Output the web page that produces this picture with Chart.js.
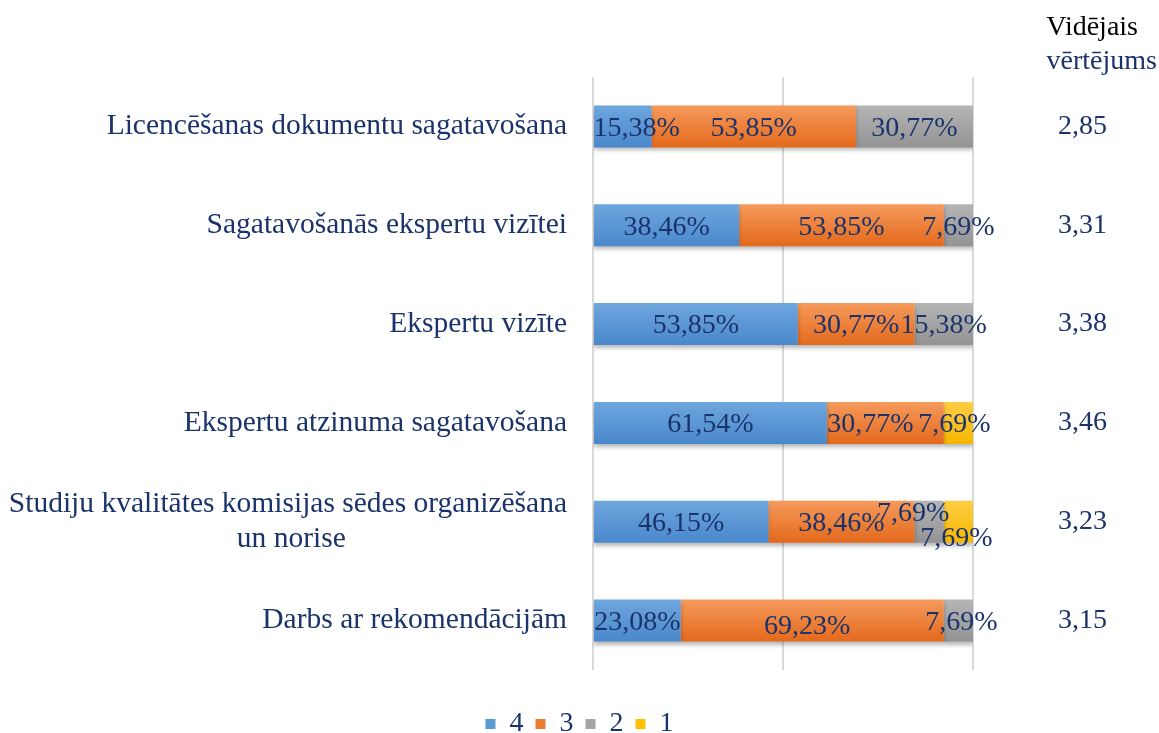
<!DOCTYPE html>
<html>
<head>
<meta charset="utf-8">
<script src="https://cdn.jsdelivr.net/npm/chart.js@4.4.1/dist/chart.umd.min.js"></script>
<style>
  html, body { margin: 0; padding: 0; background: #fff; }
  #wrap { width: 1159px; height: 733px; }
</style>
</head>
<body>
<div id="wrap"><canvas id="c" width="1159" height="733"></canvas></div>
<script>
// kategorijas un vērtības (procenti)
const categories = [
  'Licencēšanas dokumentu sagatavošana',
  'Sagatavošanās ekspertu vizītei',
  'Ekspertu vizīte',
  'Ekspertu atzinuma sagatavošana',
  ['Studiju kvalitātes komisijas sēdes organizēšana', 'un norise'],
  'Darbs ar rekomendācijām'
];
const score4 = [15.38, 38.46, 53.85, 61.54, 46.15, 23.08];
const score3 = [53.85, 53.85, 30.77, 30.77, 38.46, 69.23];
const score2 = [30.77, 7.69, 15.38, 0, 7.69, 7.69];
const score1 = [0, 0, 0, 7.69, 7.69, 0];
const averages = ['2,85', '3,31', '3,38', '3,46', '3,23', '3,15'];
const xTicks = [0, 50, 100];

const FONT = "'Liberation Serif', 'Times New Roman', serif";
const NAVY = '#1b336b';
const BAR_FRAC = 0.425;

// dažu etiķešu nobīdes (datasetIndex:index -> [dx, dy])
const labelNudge = {
  '0:0': [14, 0],
  '1:3': [-15, 0], '3:3': [-4, 0],
  '2:4': [-16, -10], '3:4': [-2, 15],
  '1:5': [-5, 4], '2:5': [3, 0]
};

const fmt = v => v.toFixed(2).replace('.', ',') + '%';

// vertikāls gradients katram stabiņam
function grad(top, bottom) {
  return function (ctx) {
    const chart = ctx.chart;
    const y = chart.scales.y;
    if (!chart.chartArea || !y || ctx.dataIndex === undefined) return top;
    const c = y.getPixelForValue(ctx.dataIndex);
    const h = (y.height / categories.length) * BAR_FRAC / 2;
    const g = chart.ctx.createLinearGradient(0, c - h, 0, c + h);
    g.addColorStop(0, top);
    g.addColorStop(1, bottom);
    return g;
  };
}

const barShadow = {
  id: 'barShadow',
  beforeDatasetDraw(chart) {
    const ctx = chart.ctx;
    ctx.save();
    ctx.shadowColor = 'rgba(0,0,0,0.28)';
    ctx.shadowBlur = 4;
    ctx.shadowOffsetY = 3;
  },
  afterDatasetDraw(chart) { chart.ctx.restore(); }
};

const valueLabels = {
  id: 'valueLabels',
  afterDatasetsDraw(chart) {
    const ctx = chart.ctx;
    ctx.save();
    ctx.font = '28px ' + FONT;
    ctx.fillStyle = NAVY;
    ctx.textAlign = 'center';
    ctx.textBaseline = 'middle';
    chart.data.datasets.forEach((ds, di) => {
      chart.getDatasetMeta(di).data.forEach((bar, i) => {
        const v = ds.data[i];
        if (!v) return;
        const n = labelNudge[di + ':' + i] || [0, 0];
        ctx.fillText(fmt(v), (bar.x + bar.base) / 2 + n[0], bar.y + 2 + n[1]);
      });
    });
    ctx.restore();
  }
};

const header = {
  id: 'header',
  afterDraw(chart) {
    const ctx = chart.ctx;
    ctx.save();
    ctx.font = '28px ' + FONT;
    ctx.textBaseline = 'middle';
    ctx.textAlign = 'right';
    ctx.fillStyle = '#000';
    ctx.fillText('Vidējais', 1138, 28);
    ctx.fillStyle = NAVY;
    ctx.fillText('vērtējums', 1157, 62);
    ctx.restore();
  }
};

const noPad = axis => { axis.paddingTop = 0; axis.paddingBottom = 0; };

new Chart(document.getElementById('c'), {
  type: 'bar',
  data: {
    labels: categories,
    datasets: [
      { label: '4', data: score4, backgroundColor: grad('#6ea6de', '#4a88cc') },
      { label: '3', data: score3, backgroundColor: grad('#f59a5c', '#e4691c') },
      { label: '2', data: score2, backgroundColor: grad('#b5b5b5', '#939393') },
      { label: '1', data: score1, backgroundColor: grad('#ffcd45', '#f5b700') }
    ]
  },
  options: {
    indexAxis: 'y',
    responsive: false,
    animation: false,
    barPercentage: 0.85,
    categoryPercentage: BAR_FRAC / 0.85,
    layout: { padding: { top: 77, left: 0, right: 0, bottom: -15 } },
    plugins: {
      legend: {
        position: 'bottom',
        labels: {
          color: NAVY,
          font: { family: FONT, size: 28 },
          boxWidth: 10,
          boxHeight: 10,
          padding: 12,
          generateLabels: chart => Chart.defaults.plugins.legend.labels.generateLabels(chart).map((l, i) => {
            l.fillStyle = ['#5b9bd5', '#ed7d31', '#a5a5a5', '#ffc000'][i];
            return l;
          })
        }
      },
      tooltip: { enabled: false }
    },
    scales: {
      x: {
        stacked: true,
        min: 0,
        max: 100,
        afterBuildTicks: axis => { axis.ticks = xTicks.map(v => ({ value: v })); },
        ticks: { display: false },
        grid: { color: '#d9d9d9', lineWidth: 2, drawTicks: false },
        border: { display: false },
        afterFit: axis => { axis.height = 28; }
      },
      y: {
        stacked: true,
        ticks: {
          color: NAVY,
          font: { family: FONT, size: 29.5 },
          padding: 18,
          callback: function (v, i) {
            const l = categories[i];
            return Array.isArray(l) ? [l[0], l[1] + ' '.repeat(30)] : l;
          }
        },
        grid: { display: false },
        border: { display: false },
        afterFit: axis => { axis.width = 593; noPad(axis); }
      },
      y2: {
        type: 'category',
        position: 'right',
        labels: averages,
        offset: true,
        ticks: {
          color: NAVY,
          font: { family: FONT, size: 28 },
          padding: 85
        },
        grid: { display: false, drawTicks: false },
        border: { display: false },
        afterFit: axis => { axis.width = 186; noPad(axis); }
      }
    }
  },
  plugins: [barShadow, valueLabels, header]
});
</script>
</body>
</html>
